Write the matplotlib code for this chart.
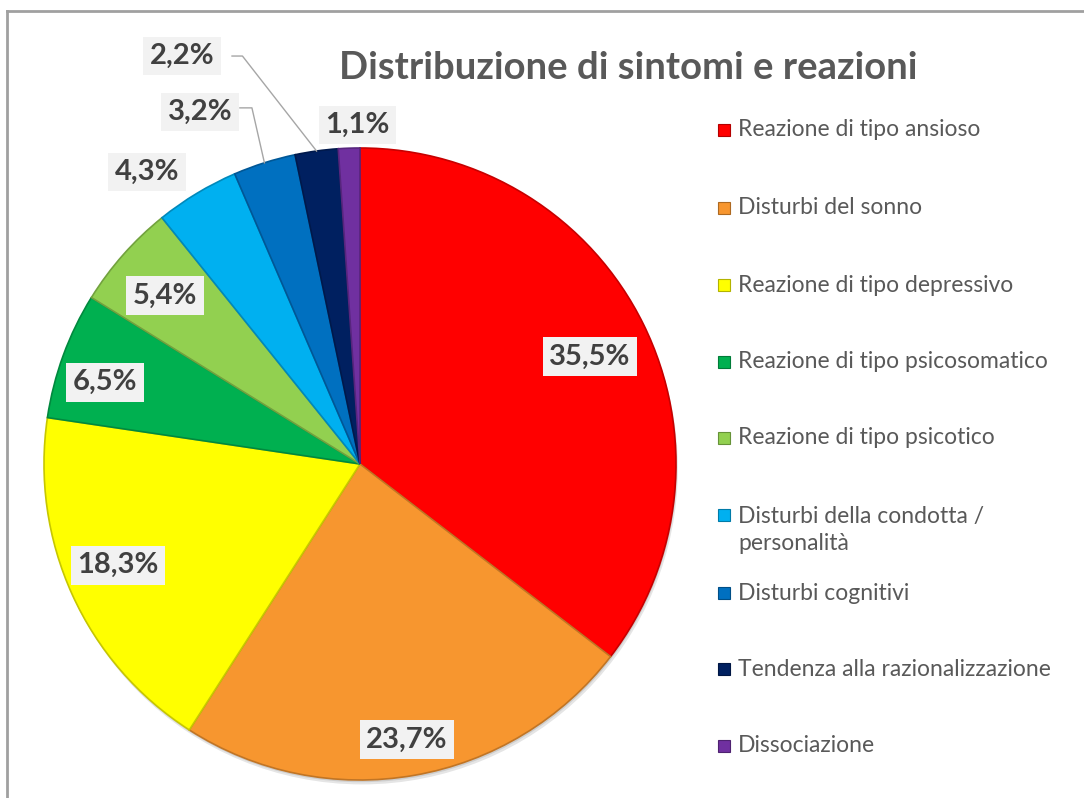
import numpy as np
import matplotlib
matplotlib.use("Agg")
import matplotlib.pyplot as plt
from matplotlib.patches import Rectangle, Circle
from matplotlib.lines import Line2D
import matplotlib.colors as mcolors

# ---------------- data ----------------
categories = [
    "Reazione di tipo ansioso",
    "Disturbi del sonno",
    "Reazione di tipo depressivo",
    "Reazione di tipo psicosomatico",
    "Reazione di tipo psicotico",
    "Disturbi della condotta /\npersonalità",
    "Disturbi cognitivi",
    "Tendenza alla razionalizzazione",
    "Dissociazione",
]
values = [35.5, 23.7, 18.3, 6.5, 5.4, 4.3, 3.2, 2.2, 1.1]
value_labels = ["35,5%", "23,7%", "18,3%", "6,5%", "5,4%", "4,3%", "3,2%", "2,2%", "1,1%"]
colors = ["#FF0000", "#F7962F", "#FFFF00", "#00B050", "#92D050",
          "#00B0F0", "#0070C0", "#002060", "#7030A0"]
title = "Distribuzione di sintomi e reazioni"

# ---------------- layout ----------------
W, H = 1084, 798
CX, CY, R = 360, 464, 316   # pie centre / radius in pixels
# label positions in pie units (radius = 1)
label_xy = [(0.728, 0.339), (0.149, -0.873), (-0.766, -0.320), (-0.807, 0.259),
            (-0.617, 0.532), (-0.674, 0.924), (-0.506, 1.114), (-0.563, 1.291),
            (-0.009, 1.073)]
# leader-line elbows (label side) for small slices
leaders = {6: [(-0.380, 1.127), (-0.342, 1.127)],
           7: [(-0.405, 1.291), (-0.372, 1.291)]}
legend_y = [130, 208, 285, 362, 438, 530, 593, 669, 746]

FONT = ["Lato", "DejaVu Sans"]
plt.rcParams["font.family"] = FONT

fig = plt.figure(figsize=(W / 100, H / 100), dpi=100)
fig.patch.set_facecolor("white")
ax = fig.add_axes([0, 0, 1, 1])

def fx(px):
    return px / W

def fy(py):
    return 1 - py / H

def darker(c, f=0.7):
    r, g, b = mcolors.to_rgb(c)
    return (r * f, g * f, b * f)

# soft drop shadow
ax.add_patch(Circle((0.006, -0.014), 1.0, color="black", alpha=0.10, lw=0, zorder=1))
ax.add_patch(Circle((0.003, -0.007), 1.0, color="black", alpha=0.10, lw=0, zorder=1))

wedges, _ = ax.pie(values, colors=colors, startangle=90, counterclock=False,
                   radius=1.0, center=(0, 0), frame=True,
                   wedgeprops=dict(linewidth=1.2))
for w, c in zip(wedges, colors):
    w.set_edgecolor(darker(c, 0.78))
    w.set_zorder(2)

ax.set_xlim((0 - CX) / R, (W - CX) / R)
ax.set_ylim((CY - H) / R, (CY - 0) / R)
ax.set_aspect("equal")
ax.axis("off")

# leader lines
total = sum(values)
cum = np.cumsum([0] + values)
for idx, pts in leaders.items():
    mid = (cum[idx] + values[idx] / 2) / total
    ang = np.deg2rad(90 - mid * 360)
    ex, ey = np.cos(ang), np.sin(ang)
    xs = [p[0] for p in pts] + [ex]
    ys = [p[1] for p in pts] + [ey]
    ax.plot(xs, ys, color="#A6A6A6", lw=1.0, zorder=3)

# value labels
for (x, y), t in zip(label_xy, value_labels):
    ax.text(x, y, t, ha="center", va="center", fontsize=21, fontweight="bold",
            color="#404040", zorder=5,
            bbox=dict(boxstyle="square,pad=0.22", fc="#F2F2F2", ec="none"))

# title
fig.text(fx(628), fy(68), title, ha="center", va="center", fontsize=27.5,
         fontweight="bold", color="#595959")

# legend (manual)
for y, c, lab in zip(legend_y, colors, categories):
    nlines = lab.count("\n") + 1
    ytop = y - (nlines - 1) * 15
    fig.patches.append(Rectangle((fx(718), fy(ytop + 6)), 12 / W, 12 / H,
                                 transform=fig.transFigure, fc=c,
                                 ec=darker(c, 0.7), lw=0.8))
    fig.text(fx(738), fy(y), lab, ha="left", va="center", fontsize=16.5,
             color="#595959", linespacing=1.3)

# border (top + left)
fig.add_artist(Line2D([fx(7), 1], [fy(11), fy(11)], color="#A0A0A0", lw=2,
                      transform=fig.transFigure))
fig.add_artist(Line2D([fx(7), fx(7)], [fy(11), 0], color="#A0A0A0", lw=2,
                      transform=fig.transFigure))

fig.savefig("out.png", dpi=100, facecolor="white")
